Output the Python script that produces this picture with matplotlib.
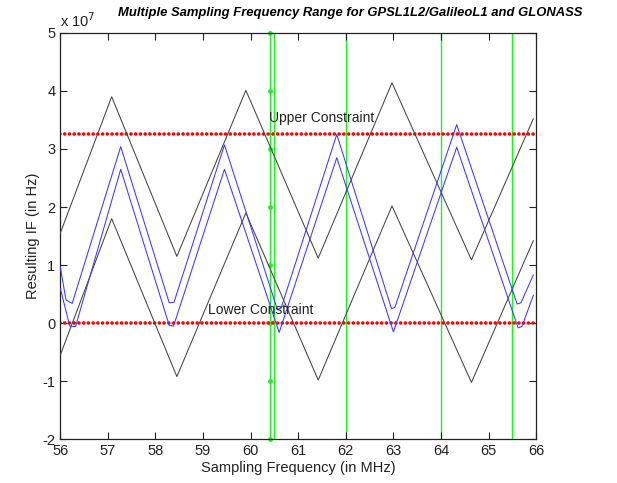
import matplotlib
matplotlib.use('Agg')
import matplotlib.pyplot as plt
from matplotlib.ticker import FuncFormatter

plt.rcParams['font.family'] = ['Liberation Sans', 'DejaVu Sans']

# IF values in units of 1e7 Hz
black_x = [56.0, 57.08, 58.45, 59.90, 61.42, 62.97, 64.64, 65.94]
black_upper = [1.55, 3.90, 1.15, 4.01, 1.12, 4.14, 1.09, 3.52]
black_lower = [-0.55, 1.80, -0.92, 1.90, -0.98, 2.02, -1.02, 1.42]

blue_upper_x = [56.0, 56.12, 56.25, 57.27, 58.29, 58.39, 59.45, 60.56, 60.64,
                61.81, 62.96, 63.03, 64.33, 65.6, 65.68, 65.94]
blue_upper = [0.97, 0.40, 0.34, 3.04, 0.35, 0.36, 3.07, 0.24, 0.26,
              3.25, 0.25, 0.27, 3.42, 0.33, 0.35, 0.83]
blue_lower_x = [56.0, 56.2, 56.32, 57.27, 58.29, 58.38, 59.45, 60.6,
                61.81, 63.0, 64.33, 65.62, 65.7, 65.94]
blue_lower = [0.60, -0.05, -0.06, 2.65, -0.04, -0.05, 2.65, -0.16,
              2.85, -0.15, 3.03, -0.08, -0.06, 0.48]

upper_constraint = 3.25
lower_constraint = 0.0
chosen_fs = [60.4, 60.5, 62.0, 64.0, 65.5]
marker_fs = 60.4
marker_levels = [-2, -1, 0, 1, 2, 3, 4, 5]

SCALE = 1e7

fig = plt.figure(figsize=(6.17, 4.83), dpi=100)
ax = fig.add_axes([0.0977, 0.0905, 0.7713, 0.8415])

for xv in chosen_fs:
    ax.axvline(xv, color='#22ee22', linewidth=1.0, zorder=1)
ax.plot([marker_fs] * len(marker_levels), [v * SCALE for v in marker_levels],
        '.', color='#22ee22', markersize=5, zorder=1, clip_on=False)

for c in (upper_constraint, lower_constraint):
    ax.axhline(c * SCALE, color='red', linewidth=2.6,
               linestyle=(0, (0.01, 1.3)), dash_capstyle='round', zorder=2)

ax.plot(black_x, [v * SCALE for v in black_upper], color='#444444', linewidth=0.75, zorder=3)
ax.plot(black_x, [v * SCALE for v in black_lower], color='#444444', linewidth=0.75, zorder=3)
ax.plot(blue_upper_x, [v * SCALE for v in blue_upper], color='#3a3aff', linewidth=0.75, zorder=3)
ax.plot(blue_lower_x, [v * SCALE for v in blue_lower], color='#3a3aff', linewidth=0.75, zorder=3)

ax.text(60.38, 3.53 * SCALE, 'Upper Constraint', fontsize=10, va='center', ha='left', color='#222222')
ax.text(59.1, 0.23 * SCALE, 'Lower Constraint', fontsize=10, va='center', ha='left', color='#222222')

ax.set_xlim(56, 66)
ax.set_ylim(-2 * SCALE, 5 * SCALE)
ax.set_xticks(range(56, 67))
ax.set_yticks([v * SCALE for v in range(-2, 6)])
ax.yaxis.set_major_formatter(FuncFormatter(lambda v, p: '%d' % round(v / SCALE)))
ax.tick_params(direction='in', top=True, right=True, length=5, labelsize=10.5,
               colors='#222222')
for s in ax.spines.values():
    s.set_color('#222222')
    s.set_linewidth(0.9)

ax.set_xlabel('Sampling Frequency (in MHz)', fontsize=10.5, color='#222222', labelpad=2)
ax.set_ylabel('Resulting IF (in Hz)', fontsize=10.5, color='#222222', labelpad=2)
ax.text(0.0, 1.008, r'x 10$^7$', transform=ax.transAxes, fontsize=10.5,
        ha='left', va='bottom', color='#222222')
fig.text(0.567, 0.973, 'Multiple Sampling Frequency Range for GPSL1L2/GalileoL1 and GLONASS',
         fontsize=9.4, fontweight='bold', fontstyle='italic', ha='center', va='center')

plt.savefig('out.png', dpi=100)
